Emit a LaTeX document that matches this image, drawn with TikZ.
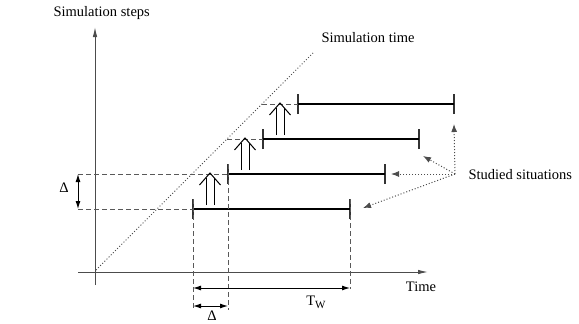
\documentclass[tikz,border=0pt]{standalone}
\usepackage{fontspec}
\setmainfont{Liberation Serif}
\usetikzlibrary{arrows.meta}
\begin{document}
\begin{tikzpicture}[x=1pt,y=-1pt,
  font=\fontsize{14.5}{16}\selectfont,
  axis/.style={draw=black!70, line width=1pt},
  axtip/.style={-{Latex[length=10pt,width=4.5pt]}},
  bar/.style={line width=2.4pt},
  tickline/.style={line width=1.3pt, draw=black!80},
  guide/.style={draw=black!65, line width=1pt, dash pattern=on 5pt off 3pt},
  dimarrow/.style={line width=1pt, {Latex[length=8pt,width=5pt]}-{Latex[length=8pt,width=5pt]}},
  dotarrow/.style={draw=black!70, line width=1pt, dash pattern=on 1pt off 2pt, -{Latex[length=8pt,width=6pt]}},
  dblup/.pic={
    \draw[line width=1pt] (-4,32) -- (-4,5) (4,32) -- (4,5);
    \draw[line width=1pt] (-10.5,12) -- (0,0) -- (10.5,12);
  }]
\useasboundingbox (0,0) rectangle (579,324);

% axes
\coordinate (ybot) at (95,285);
\coordinate (ytop) at (95,27);
\coordinate (xl) at (78,272);
\coordinate (xr) at (428,272);
\draw[axis,axtip] (ybot) -- (ytop);
\draw[axis,axtip] (xl) -- (xr);

% simulation time diagonal
\coordinate (d0) at (96,270);
\coordinate (d1) at (313,53);
\draw[draw=black!70, line width=0.9pt, dash pattern=on 1pt off 2pt] (d0) -- (d1);

% bars
\coordinate (b1l) at (193,209); \coordinate (b1r) at (350,209);
\coordinate (b2l) at (228,174); \coordinate (b2r) at (385,174);
\coordinate (b3l) at (263,139); \coordinate (b3r) at (419,139);
\coordinate (b4l) at (298,104); \coordinate (b4r) at (454,104);
\foreach \b in {b1l,b1r,b2l,b2r,b3l,b3r,b4l,b4r}{
  \draw[tickline] ([yshift=-10pt]\b) -- ([yshift=10pt]\b);
}
\draw[bar] (b1l) -- (b1r);
\draw[bar] (b2l) -- (b2r);
\draw[bar] (b3l) -- (b3r);
\draw[bar] (b4l) -- (b4r);

% dashed guides
\coordinate (g1) at (78,209);
\coordinate (g2) at (78,174);
\coordinate (g3) at (227,139);
\coordinate (g4) at (262,104);
\draw[guide] (g1) -- (b1l);
\draw[guide] (g2) -- (b2l);
\draw[guide] (g3) -- (b3l);
\draw[guide] (g4) -- (b4l);
\coordinate (v1) at (193,310);
\coordinate (v2) at (228,310);
\coordinate (v3) at (350,289);
\draw[guide] ([yshift=10pt]b1l) -- (v1);
\draw[guide] ([yshift=10pt]b2l) -- (v2);
\draw[guide] ([yshift=10pt]b1r) -- (v3);

% dimension arrows
\coordinate (tw0) at (193,288); \coordinate (tw1) at (350,288);
\draw[dimarrow] (tw0) -- (tw1);
\coordinate (dh0) at (193,306); \coordinate (dh1) at (228,306);
\draw[dimarrow] (dh0) -- (dh1);
\draw[dimarrow] (g2) -- (g1);

% double up arrows
\pic at (210,173) {dblup};
\pic at (245,138) {dblup};
\pic at (280,103) {dblup};

% labels
\node (steps) at (101.7,13.5) {Simulation steps};
\node[anchor=west] (simtime) at (318,38) {Simulation time};
\node (time) at (421,287) {Time};
\node[anchor=west] (studied) at (465,175) {Studied situations};
\node (tw) at (316,302) {T\raisebox{-3pt}{\fontsize{11}{11}\selectfont W}};
\node (dh) at (212,315.5) {Δ};
\node (dv) at (64,188) {Δ};

% pointers to studied situations
\coordinate (S) at (455,174);
\coordinate (p4) at (454,124);
\coordinate (p3) at (423,156);
\coordinate (p2) at (391,174);
\coordinate (p1) at (363,208);
\draw[dotarrow] (S) -- (p4);
\draw[dotarrow] (S) -- (p3);
\draw[dotarrow] (S) -- (p2);
\draw[dotarrow] (S) -- (p1);
\end{tikzpicture}
\end{document}
